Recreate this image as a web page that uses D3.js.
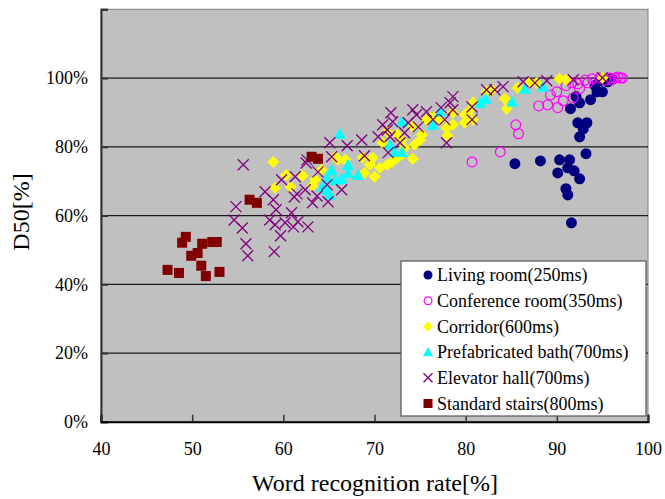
<!DOCTYPE html>
<html>
<head>
<meta charset="utf-8">
<script src="https://cdn.jsdelivr.net/npm/d3@7"></script>
<style>
  html, body { margin: 0; padding: 0; background: #fff; }
  svg { display: block; font-family: "Liberation Serif", "Times New Roman", serif; }
</style>
</head>
<body>
<svg id="chart" width="665" height="499"></svg>
<script>
// word recognition rate [%], D50 [%]
const livingRoom = [
  [85.4,75.1],[88.2,75.9],[90.3,76.2],[91.4,76.2],[90.1,72.4],[91.2,73.9],[91.9,73.0],
  [92.5,70.7],[93.2,78.0],[91.0,67.8],[91.2,66.0],[91.6,57.9],[91.5,91.1],[92.3,87.0],
  [93.3,87.0],[92.9,85.2],[92.5,82.9],[92.5,92.8],[93.7,93.7],[92.1,94.6],[94.4,96.0],
  [95.0,96.0],[94.2,97.8],[95.6,98.9],[96.0,99.8],[94.7,99.2]
];
const conferenceRoom = [
  [80.7,75.6],[83.8,78.5],[85.5,86.4],[85.8,83.8],[88.0,91.9],[90.1,91.4],[89.3,95.1],
  [90.0,96.0],[90.7,93.4],[89.0,92.2],[91.8,94.3],[91.0,97.8],[91.6,98.6],[92.3,98.3],
  [93.4,98.6],[93.9,99.8],[92.5,96.9],[93.1,99.4],[94.7,100.0],[95.3,99.4],[95.8,100.0],
  [96.0,99.4],[96.4,100.0],[96.7,100.3],[97.0,100.0],[97.2,100.0]
];
const corridor = [
  [58.9,75.6],[60.3,71.8],[62.1,71.6],[59.1,68.1],[60.8,68.4],[63.2,68.7],[63.5,70.4],
  [64.2,73.3],[65.7,77.1],[66.0,76.2],[66.8,76.2],[68.7,76.8],[69.8,76.8],[69.5,74.8],
  [68.9,72.4],[70.0,71.3],[70.6,73.9],[71.4,74.8],[71.9,75.6],[72.5,76.8],[73.0,77.7],
  [73.3,79.7],[73.0,82.0],[74.2,76.5],[74.4,80.6],[75.0,82.0],[75.2,83.5],[74.2,85.8],
  [71.4,84.4],[72.5,83.5],[70.9,81.2],[75.7,87.9],[76.1,88.4],[76.6,88.7],[77.2,87.9],
  [77.9,85.5],[78.0,83.2],[78.6,86.4],[78.6,89.9],[79.9,87.0],[80.8,87.9],[79.9,89.3],
  [80.5,90.8],[80.8,92.8],[82.3,96.0],[82.9,96.6],[84.3,94.0],[84.5,91.1],[85.7,97.2],
  [87.0,98.6],[87.8,98.6],[90.3,99.8],[91.0,99.5],[95.0,100.1]
];
const prefabBath = [
  [66.2,83.8],[65.3,73.3],[67.1,74.8],[67.1,72.4],[68.2,71.8],[66.4,70.7],[64.8,71.0],
  [64.3,68.4],[65.1,66.1],[64.8,67.5],[65.7,70.4],[71.7,80.6],[72.2,78.5],[73.0,78.5],
  [73.0,87.3],[76.4,86.4],[77.2,90.2],[81.6,92.8],[82.2,94.0],[85.1,93.1],[86.5,96.9],
  [88.5,97.5]
];
const elevatorHall = [
  [55.6,74.8],[54.8,62.6],[54.6,58.7],[55.5,56.4],[55.9,51.8],[56.1,48.3],[59.0,49.5],
  [58.0,66.9],[58.9,64.6],[59.2,61.7],[58.5,58.7],[59.1,57.3],[59.7,54.1],[60.2,57.9],
  [60.9,60.8],[61.6,58.2],[61.1,56.7],[62.7,56.7],[61.2,65.4],[61.5,66.3],[59.8,70.4],
  [62.4,67.5],[63.2,63.7],[63.7,65.7],[64.9,64.0],[62.5,75.3],[63.8,72.7],[65.1,81.2],
  [67.0,80.3],[68.6,82.0],[65.3,77.1],[68.9,77.4],[66.4,67.5],[64.8,69.0],[61.3,71.3],
  [62.6,76.2],[71.8,89.9],[70.9,86.4],[71.4,84.9],[71.7,82.9],[70.4,82.9],[72.0,87.3],
  [73.3,84.1],[72.8,81.2],[74.2,90.8],[74.6,89.3],[75.7,90.2],[73.7,87.0],[74.8,85.8],
  [76.4,87.9],[71.5,78.3],[77.3,91.4],[77.7,87.9],[78.3,92.8],[78.6,94.6],[78.6,90.8],
  [77.9,81.2],[80.7,91.6],[80.7,87.9],[82.3,96.6],[83.2,96.6],[84.1,97.5],[86.3,98.9],
  [87.6,98.6],[88.9,99.2],[91.8,99.5],[95.0,100.1]
];
const standardStairs = [
  [47.3,44.2],[48.55,43.3],[48.9,52.1],[49.3,53.8],[49.9,48.3],[50.6,49.1],[51.0,45.4],
  [51.1,51.8],[51.5,42.4],[52.2,52.3],[52.7,52.3],[53.0,43.6],[56.3,64.6],[57.1,63.7],
  [63.1,77.1],[63.8,76.5]
];

const seriesNames = [
  "Living room(250ms)", "Conference room(350ms)", "Corridor(600ms)",
  "Prefabricated bath(700ms)", "Elevator hall(700ms)", "Standard stairs(800ms)"
];
const xTicks = [40, 50, 60, 70, 80, 90, 100];
const yTicks = [0, 20, 40, 60, 80, 100, 120];

const svg = d3.select("#chart");
const plotLeft = 101, plotRight = 648, plotTop = 9.3, plotBottom = 421.8;

const x = d3.scaleLinear().domain([40, 100]).range([plotLeft, plotRight]);
const y = d3.scaleLinear().domain([0, 120]).range([plotBottom, plotTop]);

// plot background
svg.append("rect")
  .attr("x", plotLeft).attr("y", plotTop)
  .attr("width", plotRight - plotLeft).attr("height", plotBottom - plotTop)
  .attr("fill", "#c0c0c0")
  .attr("stroke", "#808080")
  .attr("stroke-width", 1);

// gridlines
svg.append("g")
  .selectAll("line")
  .data(yTicks.filter(d => d > 0 && d < 120))
  .enter()
  .append("line")
  .attr("x1", plotLeft).attr("x2", plotRight)
  .attr("y1", d => y(d)).attr("y2", d => y(d))
  .attr("stroke", "#1a1a1a")
  .attr("stroke-width", 1.2);

// y axis
const yAxis = svg.append("g")
  .attr("transform", `translate(${plotLeft},0)`)
  .call(d3.axisLeft(y).tickValues(yTicks).tickSize(-7).tickPadding(13)
    .tickFormat(d => d === 120 ? "" : d + "%"));
yAxis.select(".domain").attr("stroke", "#333").attr("stroke-width", 2);
yAxis.selectAll(".tick line").attr("stroke", "#333").attr("stroke-width", 2);
yAxis.selectAll("text")
  .attr("font-size", 18)
  .attr("font-family", "Liberation Serif")
  .attr("fill", "#000");

// x axis
const xAxis = svg.append("g")
  .attr("transform", `translate(0,${plotBottom})`)
  .call(d3.axisBottom(x).tickValues(xTicks).tickSize(-7).tickPadding(20));
xAxis.select(".domain").attr("stroke", "#000").attr("stroke-width", 2);
xAxis.selectAll(".tick line").attr("stroke", "#333").attr("stroke-width", 1.5);
xAxis.selectAll("text")
  .attr("font-size", 18)
  .attr("font-family", "Liberation Serif")
  .attr("fill", "#000");

// axis titles
svg.append("text")
  .attr("x", 375).attr("y", 491)
  .attr("text-anchor", "middle")
  .attr("font-size", 24)
  .text("Word recognition rate[%]");

svg.append("text")
  .attr("transform", "translate(29,212) rotate(-90)")
  .attr("text-anchor", "middle")
  .attr("font-size", 24)
  .text("D50[%]");

// marker shapes
function circleFilled(g, r) {
  g.append("circle").attr("r", r).attr("fill", "#000080");
}
function circleOpen(g, r) {
  g.append("circle").attr("r", r - 0.6).attr("fill", "none")
    .attr("stroke", "#ff00ff").attr("stroke-width", 1.2);
}
function diamond(g, r) {
  g.append("path").attr("d", `M0,${-r}L${r},0L0,${r}L${-r},0Z`).attr("fill", "#ffff00");
}
function triangle(g, r) {
  g.append("path").attr("d", `M0,${-r}L${r},${r * 0.85}L${-r},${r * 0.85}Z`).attr("fill", "#00ffff");
}
function cross(g, r) {
  g.append("path").attr("d", `M${-r},${-r}L${r},${r}M${-r},${r}L${r},${-r}`)
    .attr("stroke", "#800080").attr("stroke-width", 1.3).attr("fill", "none");
}
function square(g, r) {
  g.append("rect").attr("x", -r).attr("y", -r).attr("width", 2 * r).attr("height", 2 * r)
    .attr("fill", "#800000");
}

const series = [
  { data: livingRoom, draw: circleFilled, size: 5.5, legendSize: 4.5 },
  { data: conferenceRoom, draw: circleOpen, size: 5.5, legendSize: 4.5 },
  { data: corridor, draw: diamond, size: 6, legendSize: 5 },
  { data: prefabBath, draw: triangle, size: 6, legendSize: 5 },
  { data: elevatorHall, draw: cross, size: 5.5, legendSize: 4.5 },
  { data: standardStairs, draw: square, size: 5, legendSize: 4.5 }
];

series.forEach(s => {
  svg.append("g")
    .selectAll("g")
    .data(s.data)
    .enter()
    .append("g")
    .attr("transform", d => `translate(${x(d[0])},${y(d[1])})`)
    .each(function () { s.draw(d3.select(this), s.size); });
});

// legend
const legend = svg.append("g").attr("transform", "translate(401,261)");
legend.append("rect")
  .attr("width", 245).attr("height", 155)
  .attr("fill", "#fff")
  .attr("stroke", "#555")
  .attr("stroke-width", 1.2);

const rows = legend.selectAll("g.row")
  .data(series)
  .enter()
  .append("g")
  .attr("class", "row")
  .attr("transform", (d, i) => `translate(0,${14 + i * 25.7})`);

rows.append("g")
  .attr("transform", "translate(27,0)")
  .each(function (d) { d.draw(d3.select(this), d.legendSize); });

rows.append("text")
  .attr("x", 36)
  .attr("dy", "0.35em")
  .attr("font-size", 18)
  .text((d, i) => seriesNames[i]);
</script>
</body>
</html>
